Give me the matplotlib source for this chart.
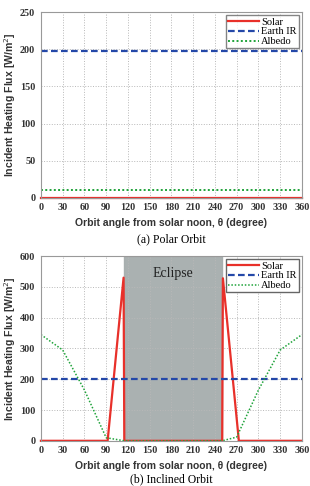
import numpy as np
import matplotlib.pyplot as plt

# Polar orbit: constant fluxes
polar_angle = [0, 360]
polar_solar = [0, 0]
polar_ir = [198, 198]
polar_albedo = [10, 10]

# Inclined orbit
incl_solar_angle = [0, 92, 114, 115, 250, 251, 273, 360]
incl_solar = [0, 0, 530, 0, 0, 528, 0, 0]
incl_ir_angle = [0, 360]
incl_ir = [202, 202]
incl_albedo_angle = [0, 30, 60, 90, 115, 250, 270, 300, 330, 360]
incl_albedo = [345, 295, 165, 10, 0, 0, 12, 165, 295, 345]
eclipse = [115, 250]

xticks = np.arange(0, 361, 30)

fig = plt.figure(figsize=(3.1, 4.86), dpi=100)
ax1 = fig.add_axes([0.132, 0.593, 0.842, 0.382])
ax2 = fig.add_axes([0.132, 0.093, 0.842, 0.380])

serif = 'Liberation Serif'
sans = 'Liberation Sans'

def style(ax, ymax, ystep):
    ax.set_xlim(0, 360)
    ax.set_ylim(0, ymax)
    ax.set_xticks(xticks)
    ax.set_yticks(np.arange(0, ymax + 1, ystep))
    ax.grid(True, color='#b8b8b8', linestyle=':', linewidth=0.7)
    ax.tick_params(length=0, pad=4, colors='#333333')
    for lab in ax.get_xticklabels() + ax.get_yticklabels():
        lab.set_fontfamily(serif)
        lab.set_fontweight('bold')
        lab.set_fontsize(7.3)
    for s in ax.spines.values():
        s.set_color('#999999')
        s.set_linewidth(0.8)
    ax.set_xlabel('Orbit angle from solar noon, \u03b8 (degree)', family=sans,
                  fontweight='bold', fontsize=7.5, labelpad=4, color='#333333')
    ax.set_ylabel('Incident Heating Flux [W/m$^2$]', family=sans,
                  fontweight='bold', fontsize=7.6, color='#333333')
    ax.yaxis.set_label_coords(-0.088, 0.5)

# (a) Polar orbit
ax1.plot(polar_angle, polar_solar, color='#e8302a', lw=1.6, label='Solar', clip_on=False)
ax1.plot(polar_angle, polar_ir, color='#2448a8', lw=1.6, ls=(0, (3, 1.5)), label='Earth IR')
ax1.plot(polar_angle, polar_albedo, color='#1fa33a', lw=1.4, ls=(0, (1, 1.2)), label='Albedo')
style(ax1, 250, 50)
ax1.legend(loc='upper right', prop={'family': serif, 'size': 7.5}, frameon=True,
           fancybox=False, edgecolor='#666666', borderpad=0.2, labelspacing=0.05,
           handlelength=3, handletextpad=0.2, borderaxespad=0.3)
fig.text(0.553, 0.508, '(a) Polar Orbit', ha='center', va='center',
         family=serif, fontsize=8.5)

# (b) Inclined orbit
ax2.axvspan(eclipse[0], eclipse[1], color='#a6adad', alpha=0.95, zorder=0)
ax2.plot(incl_solar_angle, incl_solar, color='#e8302a', lw=1.6, label='Solar', clip_on=False)
ax2.plot(incl_ir_angle, incl_ir, color='#2448a8', lw=1.6, ls=(0, (3, 1.5)), label='Earth IR')
ax2.plot(incl_albedo_angle, incl_albedo, color='#1fa33a', lw=1.1, ls=(0, (1, 1.2)), label='Albedo')
style(ax2, 600, 100)
ax2.text(182, 545, 'Eclipse', ha='center', va='center', family=serif, fontsize=10,
         color='#222222')
ax2.legend(loc='upper right', prop={'family': serif, 'size': 7.5}, frameon=True,
           fancybox=False, edgecolor='#666666', borderpad=0.2, labelspacing=0.05,
           handlelength=3, handletextpad=0.2, borderaxespad=0.3, framealpha=1)
fig.text(0.553, 0.014, '(b) Inclined Orbit', ha='center', va='center',
         family=serif, fontsize=8.5)

fig.savefig('out.png', dpi=100)
